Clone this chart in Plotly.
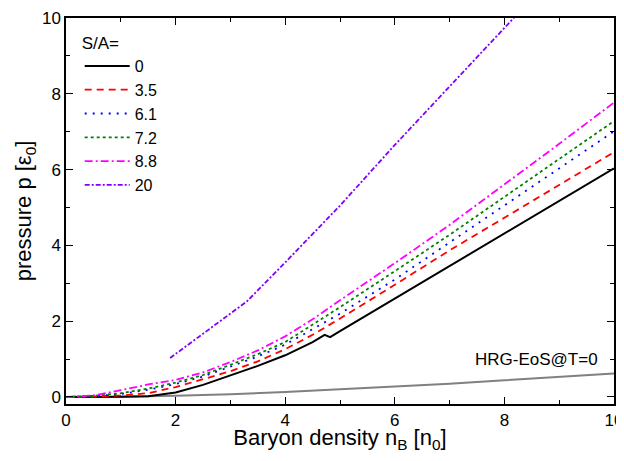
import plotly.graph_objects as go

# S/A = 0 (with the small kink near n_B ~ 4.8)
nb_0 = [0, 0.5, 1, 1.5, 2, 2.5, 3, 3.5, 4, 4.5, 4.72, 4.82, 5, 5.5, 6, 7, 8, 9, 10]
p_0 = [0, 0, 0.005, 0.02, 0.12, 0.32, 0.56, 0.82, 1.1, 1.45, 1.64, 1.58, 1.74, 2.17, 2.6, 3.46, 4.32, 5.17, 6.03]

nb = [0, 0.5, 1, 1.5, 2, 2.5, 3, 3.5, 4, 4.5, 5, 6, 7, 8, 9, 10]
p_35 = [0, 0.01, 0.04, 0.1, 0.26, 0.46, 0.68, 0.94, 1.26, 1.64, 2.07, 2.96, 3.87, 4.73, 5.6, 6.46]
p_61 = [0, 0.02, 0.08, 0.19, 0.34, 0.54, 0.8, 1.07, 1.38, 1.78, 2.2, 3.1, 4.08, 5.05, 6.03, 7.01]
p_72 = [0, 0.03, 0.1, 0.22, 0.38, 0.58, 0.85, 1.13, 1.45, 1.9, 2.37, 3.32, 4.28, 5.28, 6.28, 7.28]
p_88 = [0, 0.04, 0.18, 0.33, 0.45, 0.65, 0.92, 1.23, 1.6, 2.05, 2.55, 3.53, 4.54, 5.6, 6.68, 7.77]

nb_20 = [1.9, 2.6, 3.3, 4, 5, 6, 7, 8, 8.3]
p_20 = [1.03, 1.77, 2.52, 3.55, 5.05, 6.65, 8.2, 9.75, 10.2]

nb_hrg = [0, 1, 2, 3, 4, 5, 6, 7, 8, 9, 10]
p_hrg = [0, 0.005, 0.03, 0.07, 0.13, 0.2, 0.27, 0.35, 0.44, 0.53, 0.62]

FONT = "Liberation Sans, Arial, sans-serif"

fig = go.Figure()

fig.add_trace(go.Scatter(x=nb_hrg, y=p_hrg, mode='lines', showlegend=False,
                         line=dict(color='#808080', width=2)))

series = [
    ('0', nb_0, p_0, dict(color='black', width=2)),
    ('3.5', nb, p_35, dict(color='#ff0000', width=1.8, dash='7px,5px')),
    ('6.1', nb, p_61, dict(color='#0000ff', width=1.8, dash='2px,6px')),
    ('7.2', nb, p_72, dict(color='#008000', width=1.8, dash='3px,3px')),
    ('8.8', nb, p_88, dict(color='#ff00ff', width=1.8, dash='8px,3px,2px,3px')),
    ('20', nb_20, p_20, dict(color='#7f00ff', width=1.8, dash='5px,2px,2px,2px')),
]
for name, x, y, line in series:
    fig.add_trace(go.Scatter(x=x, y=y, mode='lines', name=name, line=line))

fig.add_annotation(x=9.74, y=1.0, xref='x', yref='y', text='HRG-EoS@T=0',
                   showarrow=False, xanchor='right', yanchor='middle',
                   font=dict(size=17, color='black', family=FONT))

axis_common = dict(
    showline=True, linecolor='black', linewidth=1.5, mirror='ticks',
    ticks='inside', ticklen=7, tickwidth=1, tickcolor='black',
    showgrid=False, zeroline=False, automargin=False,
    tickfont=dict(size=17, color='black', family=FONT),
    minor=dict(ticks='inside', ticklen=4, tickcolor='black', dtick=1),
)

fig.update_xaxes(range=[0, 10], dtick=2,
                 title=dict(text='Baryon density n<sub>B</sub> [n<sub>0</sub>]',
                            font=dict(size=22, color='black', family=FONT), standoff=3),
                 **axis_common)
fig.update_yaxes(range=[-0.185, 10], tick0=0, dtick=2,
                 title=dict(text='pressure p [ε<sub>0</sub>]',
                            font=dict(size=22, color='black', family=FONT), standoff=4),
                 **axis_common)

# the page body adds an 8px offset, so the figure is a little smaller than the window
fig.update_layout(
    width=616, height=445,
    margin=dict(l=58, r=10, t=10, b=49),
    paper_bgcolor='white', plot_bgcolor='white',
    font=dict(family=FONT, color='black'),
    legend=dict(x=0.025, y=0.977, xanchor='left', yanchor='top',
                bgcolor='rgba(0,0,0,0)', tracegroupgap=0, itemwidth=45,
                title=dict(text='S/A=', font=dict(size=17, family=FONT)),
                font=dict(size=16, family=FONT)),
)

fig.write_html("out.html")
